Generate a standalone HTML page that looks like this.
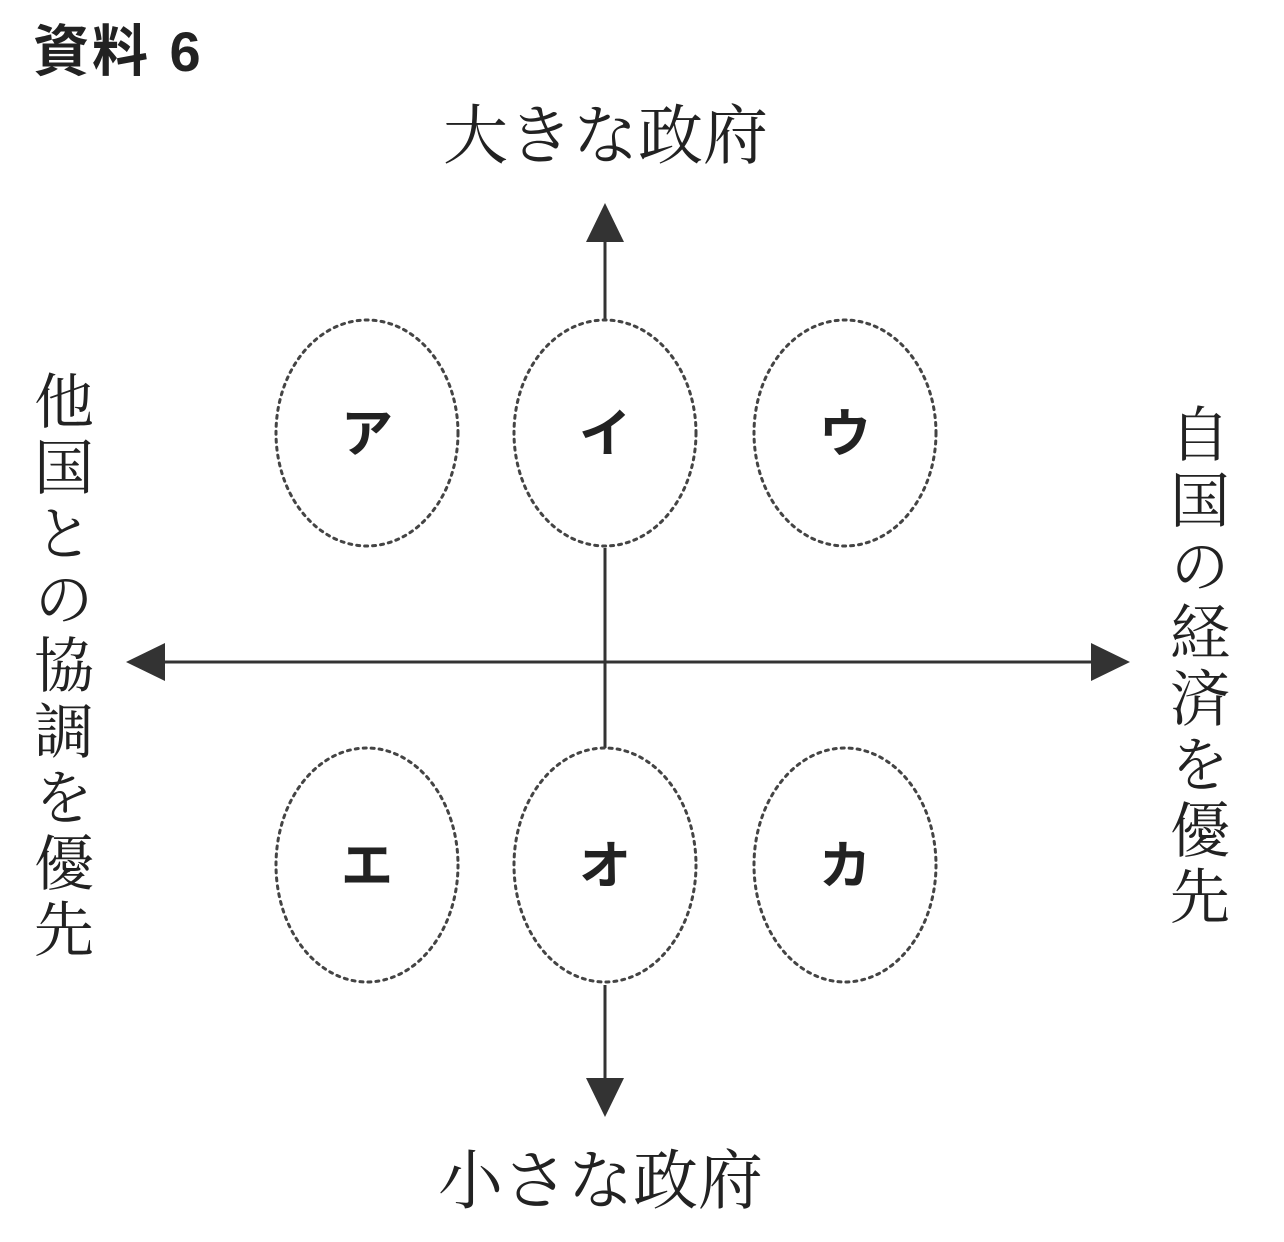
<!DOCTYPE html>
<html><head><meta charset="utf-8"><style>
body{margin:0;width:1284px;height:1242px;background:#fff;position:relative;overflow:hidden}
.t{position:absolute;font-family:"Liberation Serif","Noto Serif CJK SC",serif;color:#222;white-space:nowrap}
.g{position:absolute;font-family:"Liberation Sans","Noto Sans CJK JP",sans-serif;font-weight:bold;color:#222;white-space:nowrap}
.v{writing-mode:vertical-rl;letter-spacing:7px}
</style></head><body>
<div class="g" style="left:33px;top:20px;font-size:56px;line-height:64px;letter-spacing:3px">資料 6</div>
<div class="t" style="left:443px;top:101px;font-size:65px;line-height:72px">大きな政府</div>
<div class="t" style="left:438px;top:1146px;font-size:65px;line-height:72px">小さな政府</div>
<div class="t v" style="left:26px;top:370px;font-size:60px;line-height:66px;letter-spacing:6px">他国との協調を優先</div>
<div class="t v" style="left:1162px;top:403px;font-size:60px;line-height:66px;letter-spacing:6px">自国の経済を優先</div>
<svg width="1284" height="1242" style="position:absolute;left:0;top:0">
<g stroke="#333" stroke-width="3" fill="none">
<line x1="605" y1="238" x2="605" y2="320"/>
<line x1="605" y1="548" x2="605" y2="748"/>
<line x1="605" y1="985" x2="605" y2="1080"/>
<line x1="160" y1="662" x2="1095" y2="662"/>
</g>
<g fill="#333">
<polygon points="605,203 586,242 624,242"/>
<polygon points="605,1117 586,1078 624,1078"/>
<polygon points="126,662 165,643 165,681"/>
<polygon points="1130,662 1091,643 1091,681"/>
</g>
<g stroke="#444" stroke-width="3" stroke-dasharray="3 5" fill="none" stroke-linecap="round">
<ellipse cx="367" cy="433" rx="91" ry="113"/>
<ellipse cx="605" cy="433" rx="91" ry="113"/>
<ellipse cx="845" cy="433" rx="91" ry="113"/>
<ellipse cx="367" cy="865" rx="91" ry="117"/>
<ellipse cx="605" cy="865" rx="91" ry="117"/>
<ellipse cx="845" cy="865" rx="91" ry="117"/>
</g>
<g font-family="Liberation Sans,Noto Sans CJK JP,sans-serif" font-weight="bold" font-size="52" fill="#222" text-anchor="middle">
<text x="367" y="452">ア</text>
<text x="605" y="452">イ</text>
<text x="845" y="452">ウ</text>
<text x="367" y="884">エ</text>
<text x="605" y="884">オ</text>
<text x="845" y="884">カ</text>
</g>
</svg>
</body></html>
